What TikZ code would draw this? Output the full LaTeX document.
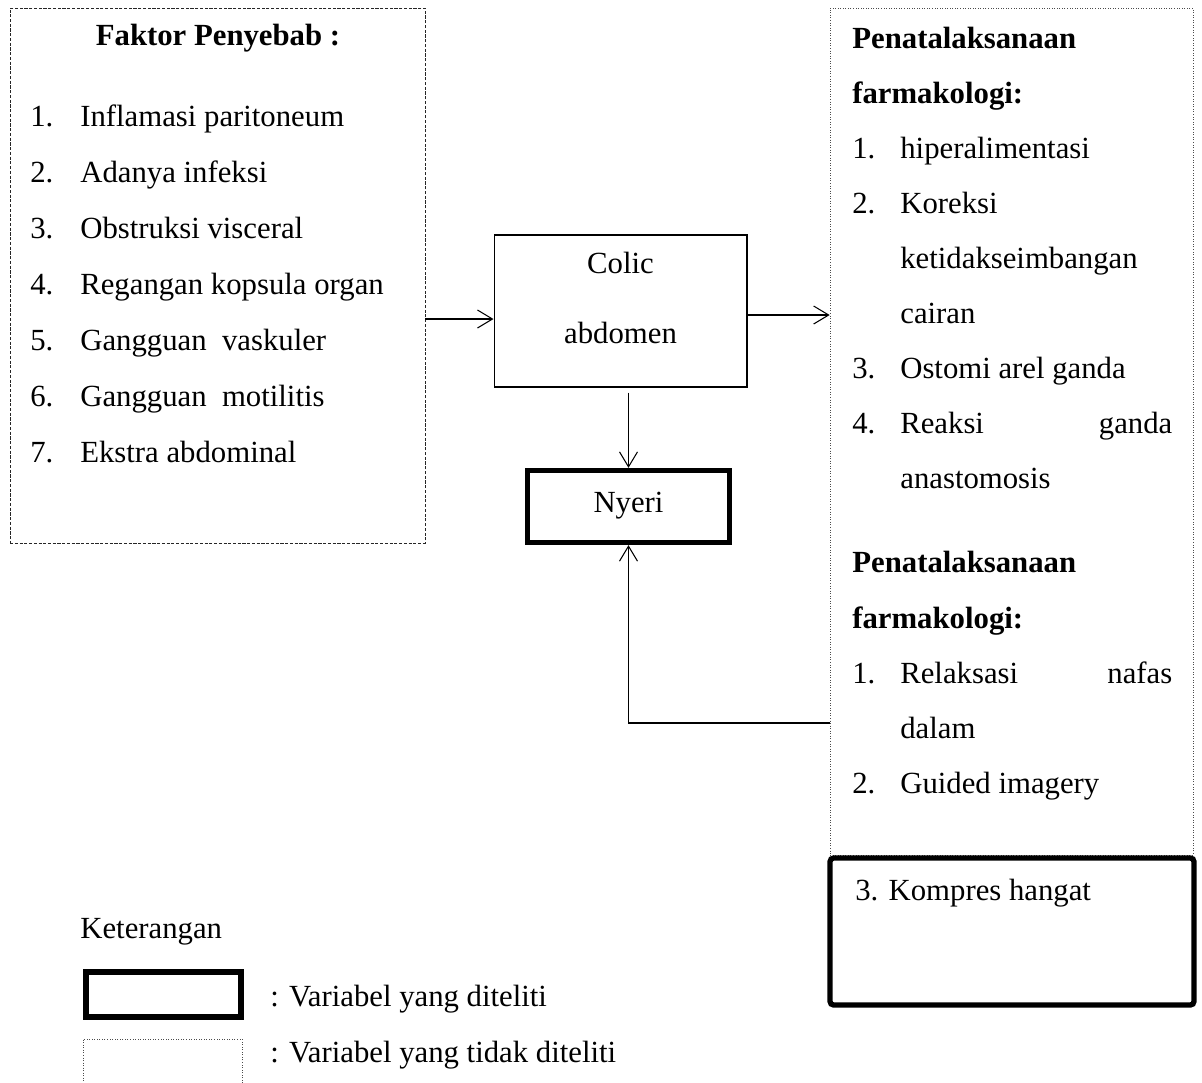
\documentclass[tikz,border=0pt]{standalone}
\usepackage{fontspec}
\setmainfont{Liberation Serif}
\usetikzlibrary{positioning, arrows.meta}

\begin{document}
\begin{tikzpicture}[
        x=0.02cm, y=-0.02cm,
        factor_box/.style={draw=black!85, rectangle, line width=0.5pt, dash pattern=on 1.8pt off 0.9pt, minimum width=8.3cm, minimum height=10.7cm},
        care_box/.style={draw=black!70, rectangle, line width=0.45pt, densely dotted, minimum width=7.26cm, minimum height=16.94cm},
        plain_box/.style={draw, rectangle, line width=0.6pt, minimum width=5.06cm, minimum height=3.04cm},
        studied_box/.style={draw, rectangle, line width=3pt},
        item_text/.style={anchor=base west, inner sep=0pt, font=\fontsize{17.5}{20}\selectfont},
        head_text/.style={item_text, font=\fontsize{17.5}{20}\selectfont\bfseries},
        arrow/.style={-{Straight Barb[length=0.3cm, width=0.36cm]}, line width=0.6pt}
    ]
        \clip (0,0) rectangle (1202,1082);

        % Boxes
        \node (factor) [factor_box] at (217.5,275.5) {};
        \node (colic) [plain_box] at (620.5,311) {};
        \node (nyeri) [studied_box, minimum width=4.04cm, minimum height=1.44cm] at (628.5,506.5) {};
        \node (care) [care_box] at (1011.5,431.5) {};
        \node (kompres) [studied_box, rounded corners=2pt, minimum width=7.28cm, minimum height=2.94cm] at (1012,931.5) {};

        % Faktor penyebab
        \node (factor_title) [head_text, anchor=base] at (218,45) {Faktor Penyebab :};
        \node (f1) [item_text] at (30,126) {\makebox[1cm][l]{1.}Inflamasi paritoneum};
        \node (f2) [item_text] at (30,182) {\makebox[1cm][l]{2.}Adanya infeksi};
        \node (f3) [item_text] at (30,238) {\makebox[1cm][l]{3.}Obstruksi visceral};
        \node (f4) [item_text] at (30,294) {\makebox[1cm][l]{4.}Regangan kopsula organ};
        \node (f5) [item_text] at (30,350) {\makebox[1cm][l]{5.}Gangguan \ vaskuler};
        \node (f6) [item_text] at (30,406) {\makebox[1cm][l]{6.}Gangguan \ motilitis};
        \node (f7) [item_text] at (30,462) {\makebox[1cm][l]{7.}Ekstra abdominal};

        % Colic dan nyeri
        \node (colic_text1) [item_text, anchor=base] at (620.5,273) {Colic};
        \node (colic_text2) [item_text, anchor=base] at (620.5,343) {abdomen};
        \node (nyeri_text) [item_text, anchor=base] at (628.5,512) {Nyeri};

        % Penatalaksanaan
        \node (p_head1) [head_text] at (852,48) {Penatalaksanaan};
        \node (p_head2) [head_text] at (852,103) {farmakologi:};
        \node (p1) [item_text] at (852,158) {\makebox[0.96cm][l]{1.}hiperalimentasi};
        \node (p2) [item_text] at (852,213) {\makebox[0.96cm][l]{2.}Koreksi};
        \node (p2b) [item_text] at (900,268) {ketidakseimbangan};
        \node (p2c) [item_text] at (900,323) {cairan};
        \node (p3) [item_text] at (852,378) {\makebox[0.96cm][l]{3.}Ostomi arel ganda};
        \node (p4) [item_text] at (852,433) {\makebox[0.96cm][l]{4.}\makebox[5.44cm][s]{Reaksi\hfill ganda}};
        \node (p4b) [item_text] at (900,488) {anastomosis};
        \node (q_head1) [head_text] at (852,572) {Penatalaksanaan};
        \node (q_head2) [head_text] at (852,628) {farmakologi:};
        \node (q1) [item_text] at (852,683) {\makebox[0.96cm][l]{1.}\makebox[5.44cm][s]{Relaksasi\hfill nafas}};
        \node (q1b) [item_text] at (900,738) {dalam};
        \node (q2) [item_text] at (852,793) {\makebox[0.96cm][l]{2.}Guided imagery};
        \node (q3) [item_text] at (855,900) {3. Kompres hangat};

        % Keterangan
        \node (legend_title) [item_text] at (80,938) {Keterangan};
        \node (legend_studied) [studied_box, minimum width=3.1cm, minimum height=0.9cm] at (163.5,994.5) {};
        \node (legend_other) [care_box, minimum width=3.18cm, minimum height=1.22cm] at (162.5,1069.5) {};
        \node (legend_studied_text) [item_text] at (270,1006) {: Variabel yang diteliti};
        \node (legend_other_text) [item_text] at (270,1062) {: Variabel yang tidak diteliti};

        % Arrows
        \coordinate (cause_row) at (0,319);
        \coordinate (care_row) at (0,315);
        \coordinate (feedback_row) at (0,723);
        \draw [arrow] (factor.east |- cause_row) -- (colic.west |- cause_row);
        \draw [arrow] (colic.east |- care_row) -- (care.west |- care_row);
        \draw [arrow, shorten <=0.1cm] (colic.south -| nyeri.north) -- (nyeri.north);
        \draw [arrow] (care.west |- feedback_row) -| (nyeri.south);
    \end{tikzpicture}
\end{document}
